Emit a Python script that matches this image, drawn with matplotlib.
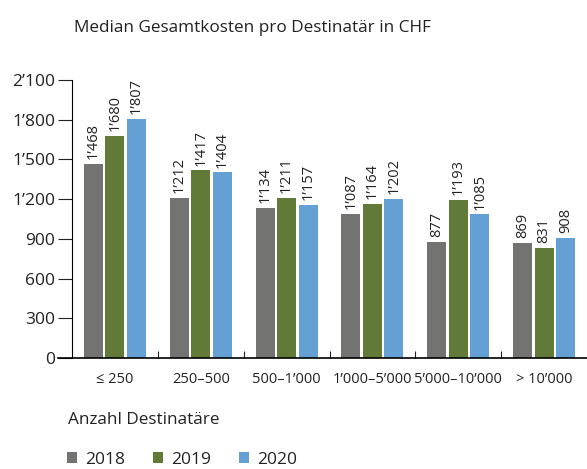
import numpy as np
import matplotlib
matplotlib.use("Agg")
import matplotlib.pyplot as plt
from matplotlib.patches import Patch

plt.rcParams['font.family'] = ['Open Sans', 'DejaVu Sans']

# Median total cost per beneficiary (CHF), grouped by number of beneficiaries
groups = ["≤ 250", "250–500", "500–1’000", "1’000–5’000", "5’000–10’000", "> 10’000"]
years = ["2018", "2019", "2020"]
cost_2018 = [1468, 1212, 1134, 1087, 877, 869]
cost_2019 = [1680, 1417, 1211, 1164, 1193, 831]
cost_2020 = [1807, 1404, 1157, 1202, 1085, 908]
yticks = [0, 300, 600, 900, 1200, 1500, 1800, 2100]

colors = ["#737372", "#627a37", "#64a0d4"]

def fmt(v):
    return f"{v:,}".replace(",", "’")

fig = plt.figure(figsize=(5.87, 4.69), dpi=100)
ax = fig.add_axes([72/587, 111/469, 515/587, 278/469])

x = np.arange(len(groups))
offsets = [-0.25, 0, 0.25]
for series, off, col in zip([cost_2018, cost_2019, cost_2020], offsets, colors):
    bars = ax.bar(x + off, series, width=0.222, color=col)
    for b, v in zip(bars, series):
        ax.text(b.get_x() + b.get_width()/2, v + 35, fmt(v), rotation=90,
                ha="center", va="bottom", fontsize=10.5, color="#222222")

ax.set_xlim(-0.5, len(groups) - 0.5)
ax.set_ylim(0, 2100)
ax.set_yticks(yticks)
ax.set_yticklabels([fmt(t) for t in yticks], fontsize=12.5, color="#222222")
ax.tick_params(axis="y", length=10, width=0.8, pad=2, color="#222222")

ax.set_xticks(x)
ax.set_xticklabels(groups, fontsize=10.5, color="#222222")
ax.tick_params(axis="x", which="major", length=0, pad=10)
ax.set_xticks(np.arange(0.5, len(groups) - 0.5, 1), minor=True)
ax.tick_params(axis="x", which="minor", direction="in", length=5, width=0.8, color="#222222")

for s in ["top", "right"]:
    ax.spines[s].set_visible(False)
ax.spines["left"].set_linewidth(0.8)
ax.spines["bottom"].set_linewidth(1.2)
ax.spines["bottom"].set_bounds(-0.5 - 14/86, len(groups) - 0.5)

fig.text(74/587, 1 - 28/469, "Median Gesamtkosten pro Destinatär in CHF",
         fontsize=12.3, va="center", ha="left", color="#222222")
fig.text(68/587, 1 - 420/469, "Anzahl Destinatäre",
         fontsize=12.3, va="center", ha="left", color="#222222")

handles = [Patch(facecolor=c, edgecolor="none") for c in colors]
fig.legend(handles, years, loc="center left", bbox_to_anchor=(67/587, 1 - 460/469),
           ncol=3, frameon=False, fontsize=12.5, handlelength=0.6, handleheight=0.6,
           handletextpad=0.45, columnspacing=1.6, borderpad=0, borderaxespad=0,
           labelcolor="#222222")

fig.savefig("out.png", dpi=100)
